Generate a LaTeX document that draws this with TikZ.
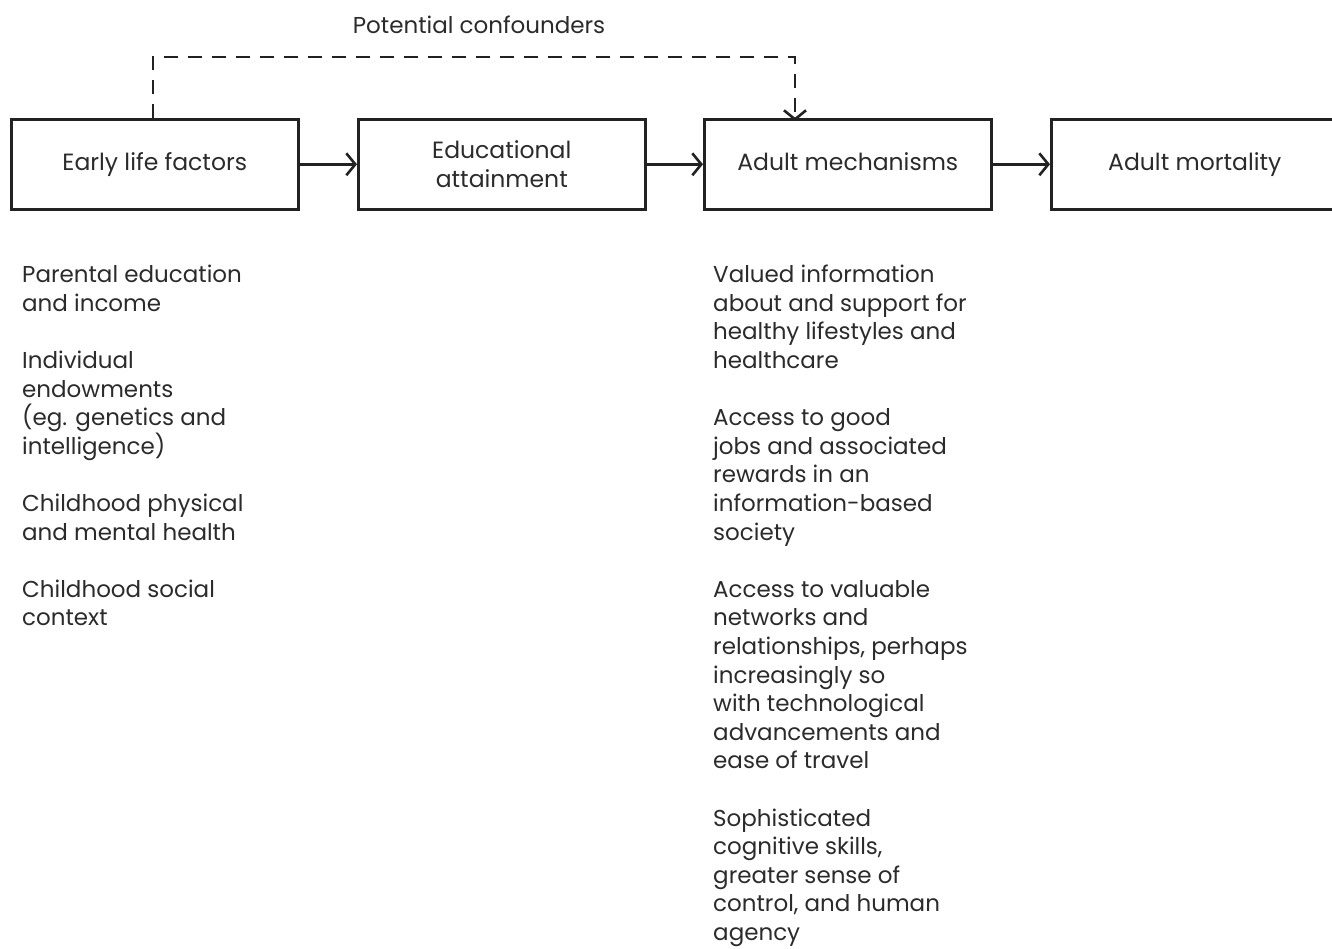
\documentclass[tikz,border=0pt]{standalone}
\usepackage{fontspec}
\setmainfont{Poppins}
\usetikzlibrary{arrows.meta}
\definecolor{ink}{HTML}{222222}
\definecolor{txt}{HTML}{2b2b2b}
\tikzset{
  stage/.style={draw=ink, line width=2.6pt, minimum width=287pt, minimum height=90pt,
    inner sep=0pt, align=center, text=txt, font=\fontsize{23.5}{29}\selectfont, anchor=north west},
  flow/.style={draw=ink, line width=2.6pt, -{Straight Barb[length=9pt,width=22pt,line width=2.6pt]}},
  conf/.style={flow, dashed, dash pattern=on 14pt off 10pt},
  notes/.style={align=left, text=txt, anchor=north west, inner sep=0pt,
    font=\fontsize{23}{28.6}\selectfont},
}
\newcommand{\evenline}{\vphantom{Ay}}
\begin{document}
\begin{tikzpicture}[x=1pt,y=-1pt]
\useasboundingbox (0,0) rectangle (1332,949);
\clip (0,0) rectangle (1332,949);

% the four stages of the pathway; the last one runs off the right edge
\node[stage] (early) at (10,118) {\evenline Early life factors};
\node[stage] (edu) at (357,118) {Educational\\attainment};
\node[stage] (adult) at (703,118) {\evenline Adult mechanisms};
\node[stage, minimum width=300pt] (mort) at (1050,118) {\hspace*{-13pt}\evenline Adult mortality};

\draw[flow] (early.east) -- (edu.west);
\draw[flow] (edu.east) -- (adult.west);
\draw[flow] (adult.east) -- (mort.west);

% confounding path over the top
\coordinate (cA) at (153,118);
\coordinate (cB) at (795,118);
\draw[conf] (cA) -- (153,57) -- (795,57) -- ([yshift=-3pt]cB);
\node[text=txt, font=\fontsize{23}{28}\selectfont] (conflabel) at (479,25) {Potential confounders};

\node[notes] (leftnotes) at (22,265) {Parental education\\and income\\[28.6pt]
Individual\\endowments\\(eg. genetics and\\intelligence)\\[28.6pt]
Childhood physical\\and mental health\\[28.6pt]
Childhood social\\context};

\node[notes] (rightnotes) at (713,265) {Valued information\\about and support for\\healthy lifestyles and\\healthcare\\[28.6pt]
Access to good\\jobs and associated\\rewards in an\\information-based\\society\\[28.6pt]
Access to valuable\\networks and\\relationships, perhaps\\increasingly so\\with technological\\advancements and\\ease of travel\\[28.6pt]
Sophisticated\\cognitive skills,\\greater sense of\\control, and human\\agency};
\end{tikzpicture}
\end{document}
